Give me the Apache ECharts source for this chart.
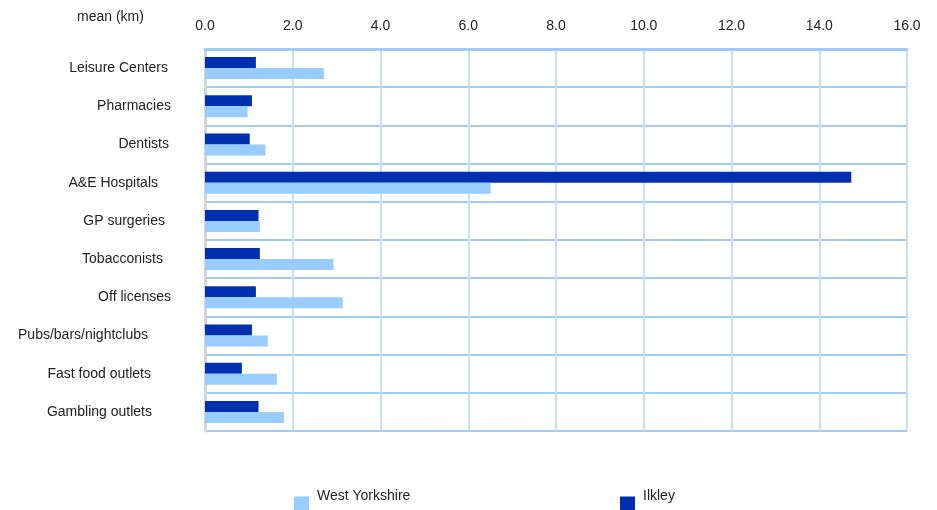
<!DOCTYPE html>
<html>
<head>
<meta charset="utf-8">
<script src="https://cdn.jsdelivr.net/npm/echarts@6/dist/echarts.min.js"></script>
<style>html,body{margin:0;padding:0;background:#fff;}#c{width:937px;height:510px;}</style>
</head>
<body>
<div id="c"></div>
<script>
const categories = ["Leisure Centers","Pharmacies","Dentists","A&E Hospitals","GP surgeries","Tobacconists","Off licenses","Pubs/bars/nightclubs","Fast food outlets","Gambling outlets"];
const ilkley = [1.16, 1.07, 1.02, 14.73, 1.22, 1.25, 1.16, 1.07, 0.84, 1.22];
const westYorkshire = [2.71, 0.97, 1.38, 6.51, 1.25, 2.93, 3.14, 1.43, 1.64, 1.80];
const axisTitle = "mean (km)";

// per-label right indent (style only), mimicking the original's wrapped label boxes
const labelIndent = [3, 0, 2, 13, 6, 8, 0, 23, 20, 19];

const font = 'Liberation Sans, Arial, sans-serif';
const catData = categories.map((c, i) => ({
  value: c,
  textStyle: {padding: [0, labelIndent[i], 0, 0]}
}));

const legendText = {
  fontSize: 14, color: '#222', fontFamily: font,
  rich: {t: {fontSize: 14, color: '#222', fontFamily: font, padding: [0, 0, 15, 3]}}
};

const chart = echarts.init(document.getElementById('c'), null, {renderer:'canvas'});
chart.setOption({
  animation: false,
  backgroundColor: '#fff',
  textStyle: {fontFamily: font},
  title: {text: axisTitle, left: 72, top: 5, textStyle: {fontSize: 14, fontWeight: 'normal', color: '#222', fontFamily: font}},
  grid: {left: 205, right: 30, top: 49, height: 382},
  xAxis: {
    type: 'value', position: 'top', min: 0, max: 16, interval: 2,
    axisLine: {show: true, lineStyle: {color: '#9fcbf7', width: 3}},
    axisTick: {show: false},
    axisLabel: {formatter: v => v.toFixed(1), color: '#222', fontSize: 14, margin: 16, fontFamily: font},
    splitLine: {show: true, lineStyle: {color: '#c9ddf3', width: 2}}
  },
  yAxis: {
    type: 'category', data: catData, inverse: true,
    axisLine: {show: true, lineStyle: {color: '#d4d4d4', width: 3}},
    axisTick: {show: false},
    axisLabel: {color: '#222', fontSize: 14, margin: 34, fontFamily: font, verticalAlign: 'top', lineHeight: 4},
    splitLine: {show: true, interval: 0, lineStyle: {color: '#9fcbf7', width: 2}}
  },
  legend: [
    {data: ['West Yorkshire'], left: 289, top: 484, itemWidth: 15, itemHeight: 14, icon: 'rect',
     formatter: n => '{t|' + n + '}', textStyle: legendText},
    {data: ['Ilkley'], left: 615, top: 484, itemWidth: 15, itemHeight: 14, icon: 'rect',
     formatter: n => '{t|' + n + '}', textStyle: legendText}
  ],
  series: [
    {name: 'Ilkley', type: 'bar', data: ilkley, barWidth: 11, barGap: '0%', itemStyle: {color: '#0030b0'}},
    {name: 'West Yorkshire', type: 'bar', data: westYorkshire, barWidth: 11, barGap: '0%', itemStyle: {color: '#99ccff'}}
  ]
});
</script>
</body>
</html>
